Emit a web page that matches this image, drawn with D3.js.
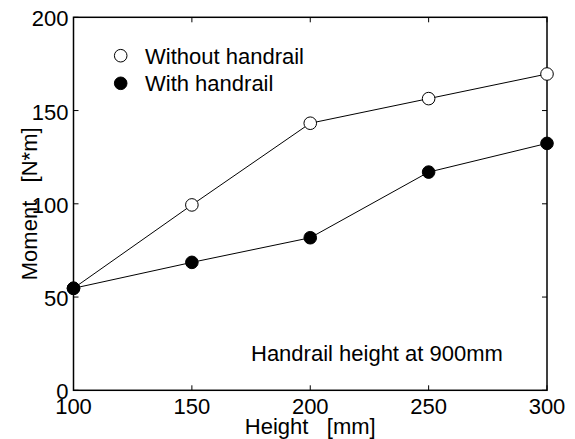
<!DOCTYPE html>
<html>
<head>
<meta charset="utf-8">
<script src="https://cdn.jsdelivr.net/npm/d3@7"></script>
<style>
  html, body { margin: 0; padding: 0; background: #fff; }
  svg text { font-family: "Liberation Sans", Arial, Helvetica, sans-serif; fill: #000; }
</style>
</head>
<body>
<svg id="chart" width="575" height="439"></svg>
<script>
// Handrail study: moment vs. step height
const heights = [100, 150, 200, 250, 300];
const withoutHandrail = [54.7, 99.4, 143.2, 156.4, 169.6];
const withHandrail = [54.7, 68.6, 81.8, 117.0, 132.4];
const xTicks = [100, 150, 200, 250, 300];
const yTicks = [0, 50, 100, 150, 200];

const svg = d3.select("#chart");
const margin = { left: 73.5, right: 28, top: 17.3, bottom: 48.7 };
const W = 575, H = 439;
const fontSize = 22;

const x = d3.scaleLinear().domain([100, 300]).range([margin.left, W - margin.right]);
const y = d3.scaleLinear().domain([0, 200]).range([H - margin.bottom, margin.top]);

const [x0, x1] = x.range();
const [y0, y1] = [y(200), y(0)];

// Plot frame
svg.append("rect")
  .attr("x", x0).attr("y", y0)
  .attr("width", x1 - x0).attr("height", y1 - y0)
  .attr("fill", "none").attr("stroke", "#000").attr("stroke-width", 1.5);

// Inward ticks on all four sides
const tickLen = 5;
const g = svg.append("g").attr("stroke", "#000").attr("stroke-width", 1);
xTicks.forEach(t => {
  g.append("line").attr("x1", x(t)).attr("x2", x(t)).attr("y1", y1).attr("y2", y1 - tickLen);
  g.append("line").attr("x1", x(t)).attr("x2", x(t)).attr("y1", y0).attr("y2", y0 + tickLen);
});
yTicks.forEach(t => {
  g.append("line").attr("x1", x0).attr("x2", x0 + tickLen).attr("y1", y(t)).attr("y2", y(t));
  g.append("line").attr("x1", x1).attr("x2", x1 - tickLen).attr("y1", y(t)).attr("y2", y(t));
});

// Tick labels
svg.append("g").selectAll("text").data(xTicks).join("text")
  .attr("x", d => x(d)).attr("y", y1 + 24)
  .attr("text-anchor", "middle").attr("font-size", fontSize)
  .text(d => d);
svg.append("g").selectAll("text").data(yTicks).join("text")
  .attr("x", x0 - 5).attr("y", d => y(d) + 9)
  .attr("text-anchor", "end").attr("font-size", fontSize)
  .text(d => d);

// Axis titles
svg.append("text")
  .attr("x", (x0 + x1) / 2).attr("y", 434)
  .attr("text-anchor", "middle").attr("font-size", fontSize)
  .attr("xml:space", "preserve")
  .text("Height   [mm]");
svg.append("text")
  .attr("transform", `translate(37,${(y0 + y1) / 2}) rotate(-90)`)
  .attr("text-anchor", "middle").attr("font-size", fontSize)
  .attr("xml:space", "preserve")
  .text("Moment   [N*m]");

// Series lines
const line = d3.line().x(d => x(d[0])).y(d => y(d[1]));
const seriesA = heights.map((h, i) => [h, withoutHandrail[i]]);
const seriesB = heights.map((h, i) => [h, withHandrail[i]]);
[seriesA, seriesB].forEach(s => {
  svg.append("path").datum(s).attr("d", line)
    .attr("fill", "none").attr("stroke", "#000").attr("stroke-width", 1);
});

// Markers
const r = 6.3;
svg.append("g").selectAll("circle").data(seriesA).join("circle")
  .attr("cx", d => x(d[0])).attr("cy", d => y(d[1])).attr("r", r)
  .attr("fill", "#fff").attr("stroke", "#000").attr("stroke-width", 1);
svg.append("g").selectAll("circle").data(seriesB).join("circle")
  .attr("cx", d => x(d[0])).attr("cy", d => y(d[1])).attr("r", r)
  .attr("fill", "#000").attr("stroke", "#000").attr("stroke-width", 1);

// Legend
const legend = [
  { label: "Without handrail", fill: "#fff", cy: 55.7 },
  { label: "With handrail", fill: "#000", cy: 83.3 }
];
legend.forEach(l => {
  svg.append("circle").attr("cx", 120.7).attr("cy", l.cy).attr("r", r)
    .attr("fill", l.fill).attr("stroke", "#000").attr("stroke-width", 1);
  svg.append("text").attr("x", 145).attr("y", l.cy + 7.8)
    .attr("font-size", fontSize).text(l.label);
});

// Annotation
svg.append("text").attr("x", 251).attr("y", 361)
  .attr("font-size", fontSize).text("Handrail height at 900mm");
</script>
</body>
</html>
